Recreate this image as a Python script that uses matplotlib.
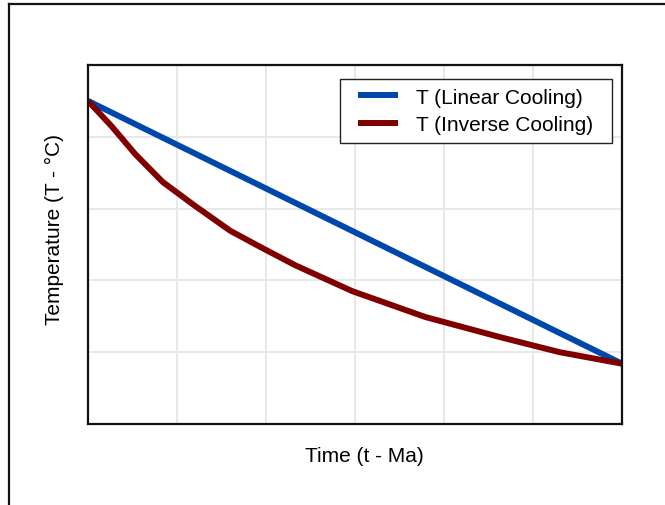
import matplotlib
matplotlib.use("Agg")
import matplotlib.pyplot as plt
from matplotlib.lines import Line2D
from matplotlib.patches import Rectangle

# time (Ma) and temperature (deg C)
t_linear = [0, 60]
T_linear = [450, 84]

t_inverse = [0, 2.7, 5.3, 8.4, 12.0, 16.0, 19.6, 23.3, 29.7, 37.9, 46.3, 53.0, 60]
T_inverse = [450, 414, 376, 337, 304, 269, 245, 221, 185, 149, 121, 100, 84]

x_grid = [10, 20, 30, 40, 50]
y_grid = [100, 200, 300, 400]

C_LIN = "#0047AB"
C_INV = "#800000"

plt.rcParams.update({
    "font.family": ["Liberation Sans", "DejaVu Sans"],
    "font.size": 15,
})

W, H = 665, 506
fig = plt.figure(figsize=(W / 100, H / 100), dpi=100, facecolor="white")

# outer frame: only its left and top edges fall inside the image
fx, fy = 9 / W, 1 - 5 / H
fig.add_artist(Line2D([fx, fx], [0, fy], transform=fig.transFigure,
                      color="#111111", lw=1.6))
fig.add_artist(Line2D([fx, 1], [fy, fy], transform=fig.transFigure,
                      color="#111111", lw=1.6))

ax = fig.add_axes([88 / W, 1 - 425 / H, (622 - 88) / W, (425 - 66) / H])
ax.plot(t_linear, T_linear, color=C_LIN, lw=4.3, label="T (Linear Cooling)",
        solid_capstyle="butt")
ax.plot(t_inverse, T_inverse, color=C_INV, lw=4.3, label="T (Inverse Cooling)",
        solid_capstyle="butt")

ax.set_xlim(0, 60)
ax.set_ylim(0, 500)
ax.set_xticks(x_grid)
ax.set_yticks(y_grid)
ax.tick_params(length=0, labelbottom=False, labelleft=False)
ax.grid(True, color="#e8e8e8", lw=1.4)
ax.set_axisbelow(True)
for sp in ax.spines.values():
    sp.set_color("#111111")
    sp.set_linewidth(1.6)

ax.set_xlabel("Time (t - Ma)", va="center")
ax.xaxis.set_label_coords((364 - 88) / 534, (425 - 456) / 359)
ax.set_ylabel("Temperature (T - °C)", va="center")
ax.yaxis.set_label_coords((54 - 88) / 534, (425 - 230) / 359)

# legend without its own frame; a wider frame is drawn round it below
leg = ax.legend(loc="upper right", bbox_to_anchor=((602 - 88) / 534, (425 - 80) / 359),
                borderaxespad=0, frameon=False, handlelength=1.92,
                borderpad=0.41, labelspacing=0.42, handletextpad=0.87)
leg.set_zorder(5)

fig.canvas.draw()
bb = leg.get_window_extent()
pad_x = 10
inv = ax.transAxes.inverted()
x0, y0 = inv.transform((bb.x0 - pad_x, bb.y0))
x1, y1 = inv.transform((bb.x1 + pad_x, bb.y1))
ax.add_patch(Rectangle((x0, y0), x1 - x0, y1 - y0, transform=ax.transAxes,
                       facecolor="white", edgecolor="#222222", lw=1.0,
                       zorder=4.5, clip_on=False))

plt.savefig("out.png", dpi=100, facecolor="white")
